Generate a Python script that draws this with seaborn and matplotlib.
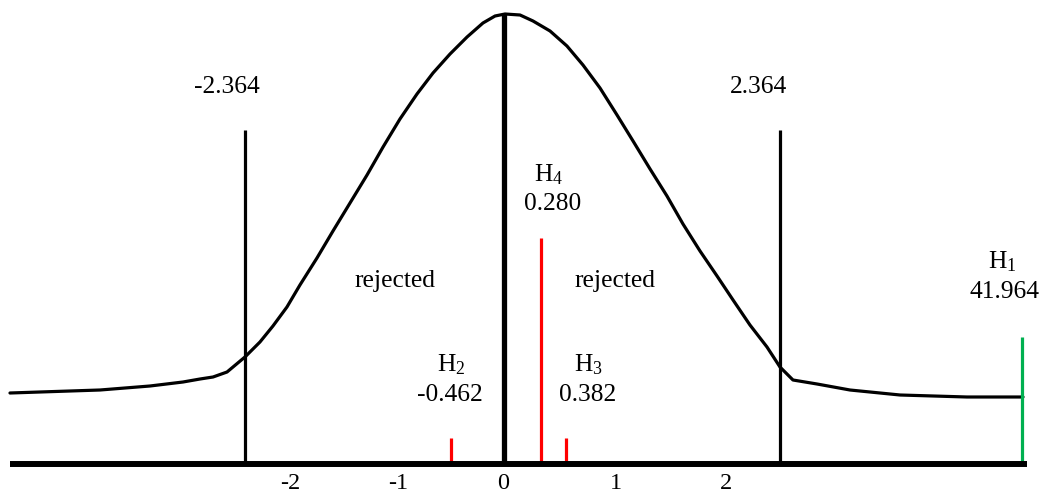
import numpy as np
import pandas as pd
import matplotlib
matplotlib.use("Agg")
import matplotlib.pyplot as plt
import seaborn as sns

# ---- data ----
# curve: x in z-units, y in height units above the baseline
curve_x = [-4.402, -3.598, -3.152, -2.857, -2.705, -2.589, -2.464, -2.304, -2.170,
           -2.054, -1.929, -1.813, -1.661, -1.518, -1.366, -1.214, -1.071, -0.920,
           -0.768, -0.625, -0.473, -0.321, -0.179, -0.071, 0.018,
           0.152, 0.268, 0.420, 0.571, 0.714, 0.866, 1.018, 1.161, 1.313, 1.464,
           1.607, 1.759, 1.911, 2.054, 2.205, 2.357, 2.473, 2.589, 2.804, 3.098,
           3.545, 4.143, 4.643]
curve_y = [71, 74, 78, 82, 85, 87, 92, 107, 122,
           138, 157, 179, 206, 233, 261, 289, 317, 345,
           370, 391, 410, 427, 441, 448, 450,
           449, 443, 433, 418, 399, 376, 349, 323, 295, 268,
           240, 213, 188, 164, 139, 117, 97, 84, 80, 74,
           69, 67, 67]

crit_labels = ["-2.364", "2.364"]
crit_x = [-2.304, 2.473]
crit_h = [334, 334]

center_x = [0.008]
center_h = [450]

hyp_names = ["H$_1$", "H$_2$", "H$_3$", "H$_4$"]
hyp_values = ["41.964", "-0.462", "0.382", "0.280"]
hyp_x = [4.634, -0.464, 0.562, 0.339]
hyp_h = [127, 26, 26, 226]
hyp_colors = ["#00B050", "#FF0000", "#FF0000", "#FF0000"]

region_labels = ["rejected", "rejected"]
tick_pos = [-1.902, -0.938, 0.0, 1.009, 1.991]
tick_labels = ["-2", "-1", "0", "1", "2"]

# ---- figure ----
sns.set_theme(style="white")
plt.rcParams["font.family"] = ["Liberation Serif", "DejaVu Serif"]
plt.rcParams["mathtext.fontset"] = "custom"
plt.rcParams["mathtext.rm"] = "Liberation Serif"
plt.rcParams["mathtext.it"] = "Liberation Serif:italic"
plt.rcParams["mathtext.default"] = "regular"

W, H = 1047, 495
base_px = 464
unit = 112.0
zero_px = 503

fig = plt.figure(figsize=(W / 100, H / 100), dpi=100)
ax = fig.add_axes([0, (H - base_px) / H, 1, base_px / H])
ax.set_xlim((0 - zero_px) / unit, (W - zero_px) / unit)
ax.set_ylim(0, base_px)

df = pd.DataFrame({"x": curve_x, "y": curve_y})
sns.lineplot(data=df, x="x", y="y", sort=False, color="black", lw=2.3, ax=ax,
             solid_joinstyle="round", solid_capstyle="round")

ax.vlines(crit_x, 0, crit_h, color="black", lw=2.3)
ax.vlines(center_x, 0, center_h, color="black", lw=3.8)
ax.vlines(hyp_x, 0, hyp_h, colors=hyp_colors, lw=2.3)

fs = 18.4
# critical value labels
crit_text_x = [-2.464, 2.277]
for t, tx in zip(crit_labels, crit_text_x):
    ax.text(tx, 377, t, ha="center", va="center", fontsize=fs, color="black")

# rejected labels
for t, tx in zip(region_labels, [-0.964, 1.004]):
    ax.text(tx, 183, t, ha="center", va="center", fontsize=fs, color="black")

# hypothesis labels
name_pos = [(4.46, 202), (-0.464, 99), (0.759, 99), (0.411, 289)]
val_pos = [(4.48, 172), (-0.473, 69), (0.759, 69), (0.446, 260)]
for n, v, (nx, ny), (vx, vy) in zip(hyp_names, hyp_values, name_pos, val_pos):
    ax.text(nx, ny, n, ha="center", va="center", fontsize=fs, color="black")
    ax.text(vx, vy, v, ha="center", va="center", fontsize=fs, color="black")

# axis
for s in ["top", "left", "right"]:
    ax.spines[s].set_visible(False)
ax.spines["bottom"].set_visible(True)
ax.spines["bottom"].set_color("black")
ax.spines["bottom"].set_linewidth(4.3)
ax.spines["bottom"].set_capstyle("butt")
ax.spines["bottom"].set_bounds((10 - zero_px) / unit, (1027 - zero_px) / unit)
ax.set_xticks(tick_pos)
ax.set_xticklabels(tick_labels)
ax.set_yticks([])
ax.tick_params(axis="x", length=0, pad=6.5, labelsize=17.5, colors="black")
ax.set_xlabel("")
ax.set_ylabel("")
ax.patch.set_alpha(0)

fig.savefig("out.png", dpi=100, facecolor="white")
